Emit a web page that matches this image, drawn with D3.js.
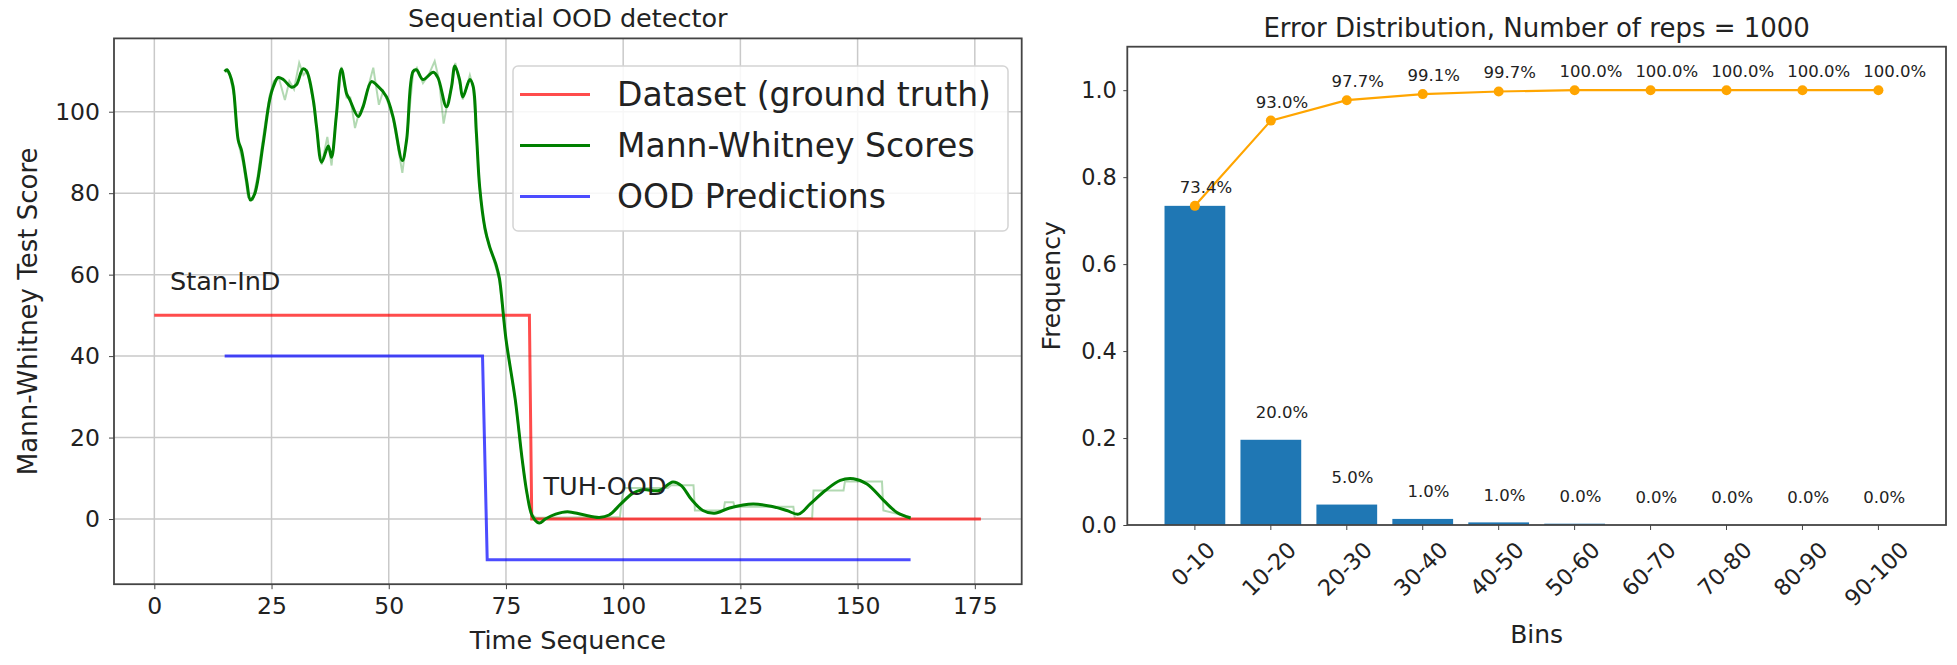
<!DOCTYPE html>
<html>
<head>
<meta charset="utf-8">
<script src="https://cdn.jsdelivr.net/npm/d3@7"></script>
<style>
  body { margin: 0; background: #fff; }
  svg { font-family: "DejaVu Sans", sans-serif; }
</style>
</head>
<body>
<svg width="1957" height="665"></svg>
<script>
// ---- left panel: sequential OOD detector ----
const truthLine = [[0, 50], [80, 50], [80.5, 0], [176.3, 0]];
const predLine = [[15, 40], [70, 40], [71, -10], [161.3, -10]];

// smoothed Mann-Whitney scores (time, score)
const scoreSmooth = [
  [15, 109.9], [15.5, 110.3], [16.1, 109.1], [16.8, 106.2], [17.9, 93], [18.6, 90.5],
  [19.7, 83], [20.5, 78.3], [21.4, 79.8], [23.2, 92.1], [24.6, 102.9], [25.4, 106.2],
  [26.4, 108.4], [27.5, 107.9], [29.3, 106], [30.3, 106.6], [31.7, 110.5], [32.5, 109.9],
  [33.9, 102.9], [34.6, 96.3], [35.7, 87.6], [37.1, 91.6], [37.8, 88.8], [38.8, 98.8],
  [39.9, 110.5], [41, 104.5], [41.7, 102.9], [43.5, 98.8], [44.5, 101.2], [46.3, 107.4],
  [47.4, 106.6], [49.5, 103.7], [50.9, 98.8], [52.9, 88], [53.8, 93], [55.2, 109.9],
  [55.9, 110.3], [57.3, 107.9], [59.5, 109.7], [60.5, 108.3], [62.3, 101.2], [63.4, 106.2],
  [64.1, 111.2], [65.1, 107.9], [65.8, 103.6], [67.3, 107.9], [68, 106.2], [68.7, 94.6],
  [69.4, 81.4], [70.5, 71.5], [71.5, 66.9], [72.9, 62.4], [73.6, 59.1], [75, 44.2],
  [77, 29.2], [78.4, 15.2], [79.5, 6.2], [80.6, 0.8], [82.1, -1], [83.4, 0],
  [85.6, 1.2], [88.1, 1.8], [91.3, 1.1], [94.9, 0.4], [97, 1.0], [99.5, 3.7],
  [102, 6.3], [104.1, 7.2], [107.7, 7.0], [110.6, 9.1], [112.4, 8.2], [114.5, 4.9],
  [117, 2.1], [119.5, 1.4], [122.7, 2.7], [127.7, 3.7], [132, 3.0], [134.9, 2.1],
  [137.4, 1.2], [139.9, 3.7], [143.1, 7.0], [146.3, 9.5], [149.1, 9.9], [152, 8.6],
  [155.6, 4.5], [158.4, 1.6], [161.3, 0.25]
];

// raw (unsmoothed) scores, drawn faint
const scoreRaw = [
  [15, 110], [16, 109.5], [17, 104], [18, 92], [19, 87], [20, 79], [21, 78.5], [22, 84],
  [23.5, 96], [24.6, 104], [25.5, 107.5], [26.5, 108.5], [27.85, 102.9], [28.8, 107.5],
  [29.8, 105.5], [30.9, 112], [31.8, 109], [32.6, 110], [33.9, 102.5], [34.6, 96],
  [35.7, 87], [36.9, 93.8], [37.8, 86.8], [38.8, 98.5], [39.9, 111], [41, 103.5],
  [41.8, 103.5], [42.8, 96], [43.6, 99.5], [44.6, 101], [45.6, 106], [46.7, 110.8],
  [47.9, 101.7], [48.8, 105], [49.6, 103], [50.9, 98.5], [52.9, 85], [53.8, 93],
  [55.2, 109.5], [56, 110.8], [57.3, 107], [58.5, 109], [59.8, 112.4], [60.7, 108],
  [61.7, 97.1], [62.5, 102], [63.4, 106], [64.2, 112], [65.1, 107], [65.8, 103],
  [66.6, 106], [67.3, 109], [68, 106], [68.7, 94], [69.4, 81], [70.5, 70.5], [71.5, 67],
  [72.9, 61.5], [73.6, 58.5], [75, 44], [77, 29], [78.4, 15], [79.5, 6], [80.6, 1],
  [81.5, 0.3], [99.3, 0.5], [99.8, 5.5], [100.3, 7.6], [109.5, 7.6], [110.2, 8.3],
  [115, 8.3], [115.3, 2.1], [121.4, 2.1], [121.7, 4.1], [123.5, 4.1], [123.8, 3.0],
  [136.3, 3.0], [136.6, 0.2], [140.3, 0.2], [140.6, 7], [147, 7], [147.3, 9.2],
  [155.2, 9.2], [155.5, 2.1], [161.3, 0.5]
];

const timeTicks = [0, 25, 50, 75, 100, 125, 150, 175];
const scoreTicks = [0, 20, 40, 60, 80, 100];
const legendLabels = ['Dataset (ground truth)', 'Mann-Whitney Scores', 'OOD Predictions'];
const notes = [{t: 3.35, v: 56.2, text: 'Stan-InD'}, {t: 83, v: 5.9, text: 'TUH-OOD'}];

// ---- right panel: error distribution ----
const bins = ['0-10', '10-20', '20-30', '30-40', '40-50', '50-60', '60-70', '70-80', '80-90', '90-100'];
const freq = [0.734, 0.196, 0.047, 0.014, 0.006, 0.003, 0, 0, 0, 0];
const cumFreq = [0.734, 0.930, 0.977, 0.991, 0.997, 1.0, 1.0, 1.0, 1.0, 1.0];
const freqLabels = ['', '20.0%', '5.0%', '1.0%', '1.0%', '0.0%', '0.0%', '0.0%', '0.0%', '0.0%'];
const cumLabels = ['73.4%', '93.0%', '97.7%', '99.1%', '99.7%', '100.0%', '100.0%', '100.0%', '100.0%', '100.0%'];
const freqTicks = [0, 0.2, 0.4, 0.6, 0.8, 1.0];

const svg = d3.select('svg');
const textColor = '#222';
const spineColor = '#444';

// ================= left panel =================
const lm = {left: 114, right: 1021.7, top: 38.4, bottom: 584.2};
const x = d3.scaleLinear().domain([-8.6, 185]).range([lm.left, lm.right]);
const y = d3.scaleLinear().domain([-16, 118]).range([lm.bottom, lm.top]);

const left = svg.append('g');

// grid
left.append('g').selectAll('line').data(timeTicks).join('line')
    .attr('x1', (d) => x(d)).attr('x2', (d) => x(d))
    .attr('y1', lm.top).attr('y2', lm.bottom)
    .attr('stroke', '#c9c9c9').attr('stroke-width', 1.5);
left.append('g').selectAll('line').data(scoreTicks).join('line')
    .attr('y1', (d) => y(d)).attr('y2', (d) => y(d))
    .attr('x1', lm.left).attr('x2', lm.right)
    .attr('stroke', '#c9c9c9').attr('stroke-width', 1.5);

const line = d3.line().x((d) => x(d[0])).y((d) => y(d[1]));
const smoothLine = d3.line().x((d) => x(d[0])).y((d) => y(d[1])).curve(d3.curveCatmullRom);

left.append('path').datum(scoreRaw)
    .attr('d', line).attr('fill', 'none')
    .attr('stroke', 'green').attr('stroke-opacity', 0.3).attr('stroke-width', 2);
left.append('path').datum(truthLine)
    .attr('d', line).attr('fill', 'none')
    .attr('stroke', 'red').attr('stroke-opacity', 0.7).attr('stroke-width', 3);
left.append('path').datum(scoreSmooth)
    .attr('d', smoothLine).attr('fill', 'none')
    .attr('stroke', 'green').attr('stroke-width', 3);
left.append('path').datum(predLine)
    .attr('d', line).attr('fill', 'none')
    .attr('stroke', 'blue').attr('stroke-opacity', 0.7).attr('stroke-width', 3);

// annotations
left.selectAll('text.note').data(notes).join('text')
    .attr('class', 'note')
    .attr('x', (d) => x(d.t)).attr('y', (d) => y(d.v))
    .attr('font-size', 25.5).attr('fill', textColor)
    .text((d) => d.text);

// axes
left.append('g')
    .attr('transform', 'translate(0,' + lm.bottom + ')')
    .call(d3.axisBottom(x).tickValues(timeTicks).tickSize(5).tickPadding(8))
    .call((g) => g.select('.domain').remove())
    .attr('font-size', 23.5).attr('font-family', null).attr('color', spineColor)
    .selectAll('text').attr('fill', textColor);

left.append('g')
    .attr('transform', 'translate(' + lm.left + ',0)')
    .call(d3.axisLeft(y).tickValues(scoreTicks).tickSize(5).tickPadding(9))
    .call((g) => g.select('.domain').remove())
    .attr('font-size', 23.5).attr('font-family', null).attr('color', spineColor)
    .selectAll('text').attr('fill', textColor);

left.append('rect')
    .attr('x', lm.left).attr('y', lm.top)
    .attr('width', lm.right - lm.left).attr('height', lm.bottom - lm.top)
    .attr('fill', 'none').attr('stroke', spineColor).attr('stroke-width', 1.8);

// legend
const legendColors = [['red', 0.7], ['green', 1], ['blue', 0.7]];
const legend = left.append('g');
legend.append('rect')
    .attr('x', 513).attr('y', 66).attr('width', 495).attr('height', 165).attr('rx', 5)
    .attr('fill', 'white').attr('fill-opacity', 0.85)
    .attr('stroke', '#d4d4d4').attr('stroke-width', 1.5);
const rows = legend.selectAll('g').data(legendLabels).join('g')
    .attr('transform', (d, i) => 'translate(0,' + (94.5 + i * 51) + ')');
rows.append('line')
    .attr('x1', 520).attr('x2', 590)
    .attr('stroke', (d, i) => legendColors[i][0])
    .attr('stroke-opacity', (d, i) => legendColors[i][1])
    .attr('stroke-width', 3);
rows.append('text')
    .attr('x', 617).attr('dy', '0.36em')
    .attr('font-size', 33).attr('fill', textColor)
    .text((d) => d);

// labels
left.append('text')
    .attr('x', (lm.left + lm.right) / 2).attr('y', 26.7)
    .attr('text-anchor', 'middle').attr('font-size', 25.5).attr('fill', textColor)
    .text('Sequential OOD detector');
left.append('text')
    .attr('x', (lm.left + lm.right) / 2).attr('y', 648.6)
    .attr('text-anchor', 'middle').attr('font-size', 25.5).attr('fill', textColor)
    .text('Time Sequence');
left.append('text')
    .attr('transform', 'translate(37,' + (lm.top + lm.bottom) / 2 + ') rotate(-90)')
    .attr('text-anchor', 'middle').attr('font-size', 26).attr('fill', textColor)
    .text('Mann-Whitney Test Score');

// ================= right panel =================
const rm = {left: 1127.3, right: 1946, top: 46.7, bottom: 525};
const xb = d3.scaleBand().domain(bins).range([rm.left, rm.right])
    .paddingInner(0.2).paddingOuter(0.49);
const yf = d3.scaleLinear().domain([0, 1.1]).range([rm.bottom, rm.top]);
const center = (b) => xb(b) + xb.bandwidth() / 2;

const right = svg.append('g');

right.append('g').selectAll('rect').data(bins).join('rect')
    .attr('x', (d) => xb(d)).attr('width', xb.bandwidth())
    .attr('y', (d, i) => yf(freq[i]))
    .attr('height', (d, i) => yf(0) - yf(freq[i]))
    .attr('fill', '#1f77b4');

const cumLine = d3.line().x((d, i) => center(bins[i])).y((d) => yf(d));
right.append('path').datum(cumFreq)
    .attr('d', cumLine).attr('fill', 'none')
    .attr('stroke', 'orange').attr('stroke-width', 2.2);
right.append('g').selectAll('circle').data(cumFreq).join('circle')
    .attr('cx', (d, i) => center(bins[i])).attr('cy', (d) => yf(d))
    .attr('r', 5).attr('fill', 'orange');

// value labels
right.append('g').selectAll('text').data(cumLabels).join('text')
    .attr('x', (d, i) => center(bins[i]) - 0.2 * xb.step())
    .attr('y', (d, i) => yf(cumFreq[i] + 0.03))
    .attr('font-size', 16.5).attr('fill', textColor)
    .text((d) => d);
right.append('g').selectAll('text').data(freqLabels).join('text')
    .attr('x', (d, i) => center(bins[i]) - 0.2 * xb.step())
    .attr('y', (d, i) => yf(freq[i] + 0.05))
    .attr('font-size', 16.5).attr('fill', textColor)
    .text((d) => d);

// axes
right.append('g')
    .attr('transform', 'translate(' + rm.left + ',0)')
    .call(d3.axisLeft(yf).tickValues(freqTicks).tickFormat(d3.format('.1f')).tickSize(4).tickPadding(6.5))
    .call((g) => g.select('.domain').remove())
    .attr('font-size', 22.4).attr('font-family', null).attr('color', spineColor)
    .selectAll('text').attr('fill', textColor);

const binAxis = right.append('g')
    .attr('transform', 'translate(0,' + rm.bottom + ')')
    .call(d3.axisBottom(xb).tickSize(5))
    .call((g) => g.select('.domain').remove())
    .attr('font-size', 22.4).attr('font-family', null).attr('color', spineColor);
binAxis.selectAll('text')
    .attr('fill', textColor)
    .attr('text-anchor', 'middle')
    .attr('y', 0).attr('dy', '0.36em')
    .attr('transform', function () {
      const w = this.getComputedTextLength();
      const off = 15 + (w + 0.73 * 22.4) / (2 * Math.SQRT2);
      return 'translate(-2,' + off + ') rotate(-45)';
    });

right.append('rect')
    .attr('x', rm.left).attr('y', rm.top)
    .attr('width', rm.right - rm.left).attr('height', rm.bottom - rm.top)
    .attr('fill', 'none').attr('stroke', spineColor).attr('stroke-width', 1.8);

right.append('text')
    .attr('x', (rm.left + rm.right) / 2).attr('y', 37.3)
    .attr('text-anchor', 'middle').attr('font-size', 26).attr('fill', textColor)
    .text('Error Distribution, Number of reps = 1000');
right.append('text')
    .attr('x', (rm.left + rm.right) / 2).attr('y', 643)
    .attr('text-anchor', 'middle').attr('font-size', 25).attr('fill', textColor)
    .text('Bins');
right.append('text')
    .attr('transform', 'translate(1060,' + (rm.top + rm.bottom) / 2 + ') rotate(-90)')
    .attr('text-anchor', 'middle').attr('font-size', 25).attr('fill', textColor)
    .text('Frequency');
</script>
</body>
</html>
